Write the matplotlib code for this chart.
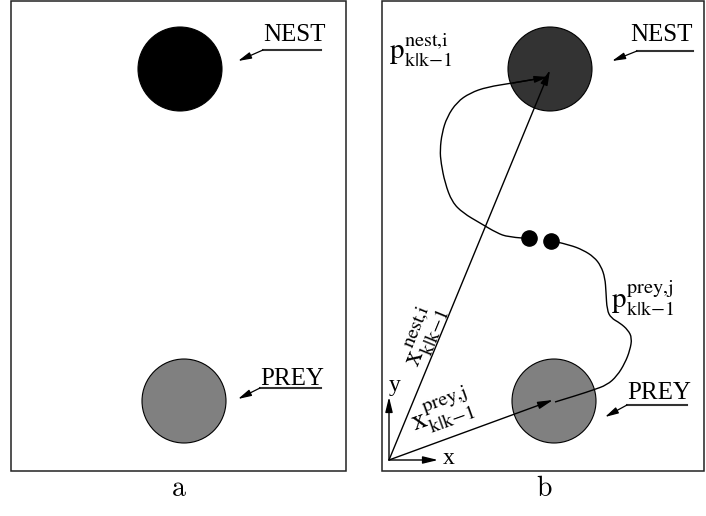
import numpy as np
import matplotlib.pyplot as plt
from matplotlib.patches import Circle, Rectangle, PathPatch
from matplotlib.path import Path

plt.rcParams['font.family'] = ['Liberation Serif', 'DejaVu Serif']
plt.rcParams['mathtext.fontset'] = 'stix'

# panel frames (pixel coords, y down): x0, y0, x1, y1
frame_a = [11, 1, 346, 471]
frame_b = [382, 1, 704, 471]

# targets: centre x, centre y, radius, colour
nest_a = [180, 69, 42, 'black']
prey_a = [184, 401, 42, '#808080']
nest_b = [550, 69, 42, '#333333']
prey_b = [554, 401, 42, '#808080']

# labels with underline and pointer: text, x, baseline, underline x0, x1, y, arrow tip
tags = [
    ['NEST', 263, 41, 263, 321, 50, 238, 61],
    ['PREY', 260, 385, 260, 321, 388, 238, 399],
    ['NEST', 630, 41, 637, 693, 51, 612, 61],
    ['PREY', 627, 399, 627, 687, 405, 605, 417],
]

origin = [389, 460]
x_axis_end = [438, 460]
y_axis_end = [389, 397]

# agent trajectory towards the nest (from the left dot)
nest_path_x = [522, 508, 497, 480, 463, 452, 445, 441, 440, 442, 447, 457, 470, 487, 513, 548]
nest_path_y = [238, 237, 233, 223, 213, 202, 183, 163, 150, 133, 117, 102, 93, 87, 83, 77]

# agent trajectory towards the prey (from the right dot)
prey_path_x = [557, 570, 583, 594, 601, 605, 606, 607, 611, 620, 628, 632, 630, 625, 617, 607, 593, 578, 555]
prey_path_y = [242, 245, 250, 257, 266, 278, 292, 310, 318, 323, 330, 338, 350, 363, 376, 385, 390, 395, 402]

dots_x = [529, 551]
dots_y = [238, 241]


def smooth_path(xs, ys):
    pts = np.column_stack([xs, ys]).astype(float)
    verts = [pts[0]]
    codes = [Path.MOVETO]
    for i in range(1, len(pts) - 1):
        mid = (pts[i] + pts[i + 1]) / 2 if i < len(pts) - 2 else pts[i + 1]
        verts += [pts[i], mid]
        codes += [Path.CURVE3, Path.CURVE3]
    return Path(verts, codes)


def arrow(ax, start, end, hl=0.9, hw=0.22, lw=1.0):
    ax.annotate('', xy=end, xytext=start,
                arrowprops=dict(arrowstyle='-|>,head_length=%g,head_width=%g' % (hl, hw),
                                color='black', lw=lw, shrinkA=0, shrinkB=0))


fig = plt.figure(figsize=(7.06, 5.16), dpi=100)
ax = fig.add_axes([0, 0, 1, 1])
ax.set_xlim(0, 706)
ax.set_ylim(516, 0)
ax.axis('off')

for fr in [frame_a, frame_b]:
    ax.add_patch(Rectangle((fr[0], fr[1]), fr[2] - fr[0], fr[3] - fr[1],
                           fill=False, edgecolor='#222222', lw=1.1))

for c in [nest_a, prey_a, nest_b, prey_b]:
    ax.add_patch(Circle((c[0], c[1]), c[2], facecolor=c[3], edgecolor='black', lw=0.8))

for t in tags:
    ax.text(t[1], t[2], t[0], fontsize=18, ha='left', va='baseline')
    ax.plot([t[3], t[4]], [t[5], t[5]], color='#333333', lw=1.5)
    arrow(ax, (t[3], t[5]), (t[6], t[7]), hl=0.8, hw=0.2, lw=0.9)

# coordinate axes
arrow(ax, origin, x_axis_end)
arrow(ax, origin, y_axis_end)
ax.text(x_axis_end[0] + 5, x_axis_end[1] - 1, 'x', fontsize=17, ha='left', va='center')
ax.text(y_axis_end[0], y_axis_end[1] - 11, 'y', fontsize=17, ha='left', va='center')

# position vectors
arrow(ax, origin, (nest_b[0], nest_b[1] + 1))
arrow(ax, origin, (prey_b[0] - 1, prey_b[1] - 1))

# trajectories
ax.add_patch(PathPatch(smooth_path(nest_path_x, nest_path_y), fill=False, lw=1.0, edgecolor='black'))
arrow(ax, (nest_path_x[-2], nest_path_y[-2]), (nest_path_x[-1], nest_path_y[-1]), hl=0.8, hw=0.2)
ax.add_patch(PathPatch(smooth_path(prey_path_x, prey_path_y), fill=False, lw=1.0, edgecolor='black'))
ax.scatter(dots_x, dots_y, s=120, color='black', zorder=5)

ax.text(389, 50, r'$\mathrm{p}^{\mathrm{nest{,}i}}_{\mathrm{k|k{-}1}}$', fontsize=21, ha='left', va='center')
ax.text(611, 298, r'$\mathrm{p}^{\mathrm{prey{,}j}}_{\mathrm{k|k{-}1}}$', fontsize=21, ha='left', va='center')

ang_n = np.degrees(np.arctan2(origin[1] - nest_b[1], nest_b[0] - origin[0]))
ang_p = np.degrees(np.arctan2(origin[1] - prey_b[1], prey_b[0] - origin[0]))
ax.text(423, 335, r'$\mathrm{x}^{\mathrm{nest{,}i}}_{\mathrm{k|k{-}1}}$', fontsize=21,
        rotation=ang_n, rotation_mode='anchor', ha='center', va='center')
ax.text(441, 412, r'$\mathrm{x}^{\mathrm{prey{,}j}}_{\mathrm{k|k{-}1}}$', fontsize=21,
        rotation=ang_p, rotation_mode='anchor', ha='center', va='center')

ax.text(179, 490, r'$\mathrm{a}$', fontsize=20, ha='center', va='center', math_fontfamily='cm')
ax.text(544, 490, r'$\mathrm{b}$', fontsize=20, ha='center', va='center', math_fontfamily='cm')

fig.savefig('out.png', dpi=100)
